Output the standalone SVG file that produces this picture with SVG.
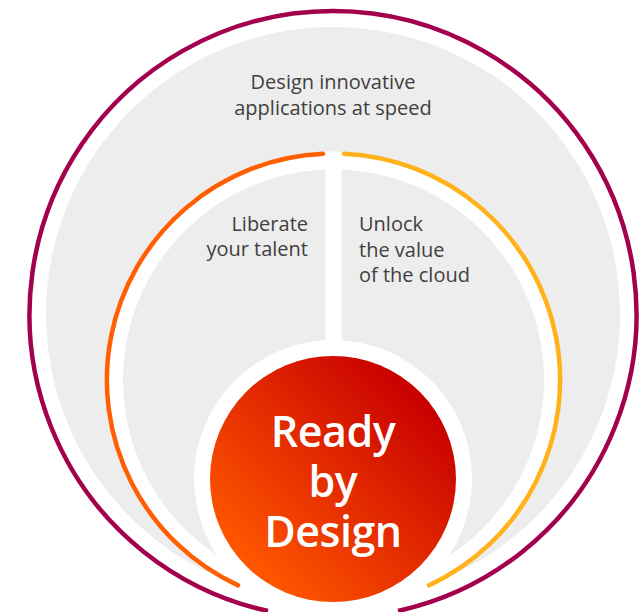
<svg xmlns="http://www.w3.org/2000/svg" width="644" height="612" viewBox="0 0 644 612">
  <style>
    .lbl { font-family: "Open Sans", "Noto Sans", "DejaVu Sans", sans-serif; font-size: 20px; fill: #404040; }
    .core { font-family: "Open Sans", "Noto Sans", "DejaVu Sans", sans-serif; font-size: 43px; font-weight: 600; fill: #ffffff; letter-spacing: -0.5px; }
    .arc { fill: none; stroke-width: 4.5; }
  </style>
  <defs>
    <linearGradient id="redGrad" x1="0.15" y1="0.85" x2="0.85" y2="0.15">
      <stop offset="0" stop-color="#FF5700"/>
      <stop offset="1" stop-color="#C80000"/>
    </linearGradient>
  </defs>
  <rect width="644" height="612" fill="#ffffff"/>

  <g id="outer-ring">
    <path class="arc" stroke="#A3004D" stroke-width="5" d="M 268 611 A 303.5 303.5 0 1 1 398 611"/>
    <circle cx="333" cy="314" r="287" fill="#EDEDED"/>
    <text class="lbl" x="333" y="89" text-anchor="middle">Design innovative</text>
    <text class="lbl" x="333" y="115" text-anchor="middle">applications at speed</text>
  </g>

  <g id="middle-ring">
    <circle cx="333.5" cy="380" r="228.5" fill="#ffffff"/>
    <circle cx="333.5" cy="380" r="210.5" fill="#EDEDED"/>
    <rect x="325.3" y="160" width="16.4" height="220" fill="#ffffff"/>
    <path class="arc" stroke="#FF5F00" stroke-linecap="round" d="M 238 585.4 A 226.5 226.5 0 0 1 323 153.7"/>
    <path class="arc" stroke="#FFB21A" stroke-linecap="round" d="M 344 153.7 A 226.5 226.5 0 0 1 429 585.4"/>
  </g>

  <g id="liberate">
    <text class="lbl" x="308" y="231" text-anchor="end">Liberate</text>
    <text class="lbl" x="308" y="256" text-anchor="end">your talent</text>
  </g>

  <g id="unlock">
    <text class="lbl" x="359" y="231">Unlock</text>
    <text class="lbl" x="359" y="256.5">the value</text>
    <text class="lbl" x="359" y="282">of the cloud</text>
  </g>

  <g id="core">
    <circle cx="333" cy="479" r="139" fill="#ffffff"/>
    <circle cx="333" cy="479" r="123" fill="url(#redGrad)"/>
    <text class="core" x="333" y="447" text-anchor="middle">Ready</text>
    <text class="core" x="333" y="497" text-anchor="middle">by</text>
    <text class="core" x="333" y="547" text-anchor="middle">Design</text>
  </g>

  <g id="connectors"></g>
</svg>
